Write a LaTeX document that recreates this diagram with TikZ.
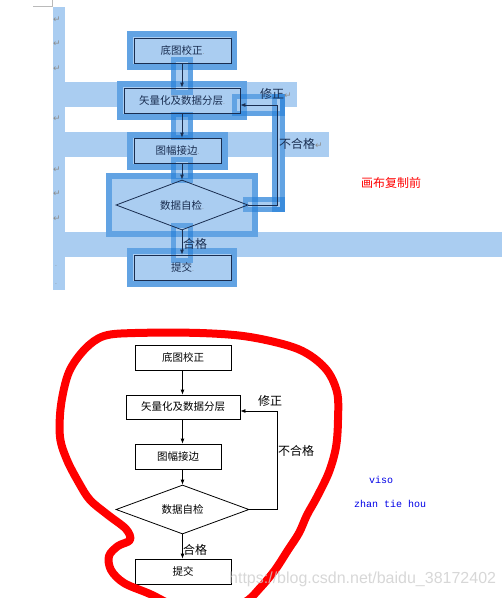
\documentclass[tikz,border=0pt]{standalone}
\usepackage{fontspec}
\setmainfont{Noto Sans CJK SC}
\newfontfamily\markfont{DejaVu Sans}
\newfontfamily\monofont{Liberation Mono}
\newfontfamily\wmfont{Liberation Sans}
\usetikzlibrary{shapes.geometric,arrows.meta}
\definecolor{sellight}{RGB}{170,205,241}
\definecolor{selblue}{RGB}{12,112,212}
\definecolor{boxline}{RGB}{25,45,80}
\definecolor{markgray}{RGB}{140,140,140}
\definecolor{wmgray}{RGB}{205,205,205}
\definecolor{vblue}{RGB}{0,0,230}
\newcommand\parmark{{\markfont\color{markgray}\fontsize{6}{6}\selectfont.}}
\newcommand\retmark{{\markfont\color{markgray}\fontsize{9}{9}\selectfont ↵}}
\tikzset{
    flowbox/.style={draw, line width=0.8pt, inner sep=0pt, minimum height=25pt, font=\fontsize{10.5}{12}\selectfont},
    flowdia/.style={draw, diamond, aspect=2.6, line width=0.8pt, inner sep=0pt, minimum width=132pt, minimum height=50pt, font=\fontsize{10.5}{12}\selectfont},
    flowarrow/.style={-{Latex[length=5pt,width=4pt]}, line width=0.8pt},
    lbl/.style={anchor=west, inner sep=0pt, font=\fontsize{12}{14}\selectfont},
    pmark/.style={inner sep=0pt},
    selring/.style={draw=selblue, draw opacity=.45, line width=5pt},
    boxring/.style={selring, line width=6pt},
    redloop/.style={red, line width=8pt, line join=round, line cap=round}
}
\begin{document}
\begin{tikzpicture}[x=1pt,y=-1pt]
    \useasboundingbox (0,0) rectangle (502,598);
    \clip (0,0) rectangle (502,598);
    %Page corner
        \draw[markgray!60, line width=0.8pt] (33,6) -- (52,6) -- (52,0);
    %Selection fills
        \fill[sellight] (53,7) rectangle (65,290);
        \fill[sellight] (65,82) rectangle (297,107);
        \fill[sellight] (65,132) rectangle (329,157);
        \fill[sellight] (65,232) rectangle (502,257);
        \fill[sellight] (127,31) rectangle (237,70);
        \fill[sellight] (117,81) rectangle (247,120);
        \fill[sellight] (127,132) rectangle (228,170);
        \fill[sellight] (106,173) rectangle (258,237);
        \fill[sellight] (127,248) rectangle (237,287);
        \fill[sellight] (171,57) rectangle (193,95);
        \fill[sellight] (171,112) rectangle (193,140);
        \fill[sellight] (171,157) rectangle (193,183);
        \fill[sellight] (171,223) rectangle (193,263);
        \fill[sellight] (232,94) rectangle (285,116);
        \fill[sellight] (272,94) rectangle (285,212);
        \fill[sellight] (243,197) rectangle (285,212);
    %Selection frames
        \draw[boxring] (130,34) rectangle (234,67);
        \draw[boxring] (120,84) rectangle (244,117);
        \draw[boxring] (130,135) rectangle (225,167);
        \draw[boxring] (109,176) rectangle (255,234);
        \draw[boxring] (130,251) rectangle (234,284);
        \draw[selring] (173.5,59.5) rectangle (190.5,92.5);
        \draw[selring] (173.5,114.5) rectangle (190.5,137.5);
        \draw[selring] (173.5,159.5) rectangle (190.5,180.5);
        \draw[selring] (173.5,225.5) rectangle (190.5,260.5);
        \draw[selring] (234.5,96.5) rectangle (282.5,113.5);
        \draw[selring] (274.5,96.5) rectangle (282.5,209.5);
        \draw[selring] (245.5,199.5) rectangle (282.5,209.5);
    %Paragraph marks
        \node[pmark] (m1) at (57,20) {\retmark};
        \node[pmark] (m2) at (57,44) {\retmark};
        \node[pmark] (m3) at (57,69) {\retmark};
        \node[pmark] (m4) at (57,119) {\retmark};
        \node[pmark] (m5) at (57,170) {\retmark};
        \node[pmark] (m6) at (57,194) {\retmark};
        \node[pmark] (m7) at (57,219) {\retmark};
        \node[pmark] (m8) at (56,266) {\parmark};
        \node[pmark] (m9) at (56,284) {\parmark};
    %Flow before copy
        \node[flowbox, draw=boxline, text=boxline, minimum width=97pt] (ajz) at (182.5,50.5) {底图校正\parmark};
        \node[flowbox, draw=boxline, text=boxline, minimum width=116pt] (aslh) at (182,100.5) {矢量化及数据分层\parmark};
        \node[flowbox, draw=boxline, text=boxline, minimum width=87pt] (ajb) at (177.5,150.5) {图幅接边\parmark};
        \node[flowdia, draw=boxline, text=boxline] (azj) at (182,205) {数据自检\parmark};
        \node[flowbox, draw=boxline, text=boxline, minimum width=97pt] (atj) at (182.5,267.5) {提交\parmark};
        \draw[flowarrow, boxline] (ajz.south -| azj.north) -- (aslh.north -| azj.north);
        \draw[flowarrow, boxline] (aslh.south -| azj.north) -- (ajb.north -| azj.north);
        \draw[flowarrow, boxline] (ajb.south -| azj.north) -- (azj.north);
        \draw[flowarrow, boxline] (azj.south) -- (atj.north -| azj.south);
        \draw[flowarrow, boxline] (azj.east) -- ++(29,0) |- ([yshift=-4.5pt]aslh.east);
        \node[lbl, text=boxline] (axz) at (260,93.5) {修正\retmark};
        \node[lbl, text=boxline] (abhg) at (279,144) {不合格\retmark};
        \node[lbl, text=boxline] (ahg) at (183,244) {合格};
        \node[lbl, text=red] (before) at (361,183) {画布复制前};
    %Flow after paste
        \node[flowbox, minimum width=96pt] (bjz) at (183,357.5) {底图校正};
        \node[flowbox, minimum width=114pt, minimum height=24pt] (bslh) at (183,407) {矢量化及数据分层};
        \node[flowbox, minimum width=86pt] (bjb) at (178,456.5) {图幅接边};
        \node[flowdia, minimum width=133pt, minimum height=49pt] (bzj) at (182.5,509.5) {数据自检};
        \node[flowbox, minimum width=96pt] (btj) at (183,571.5) {提交};
        \draw[flowarrow] (bjz.south -| bzj.north) -- (bslh.north -| bzj.north);
        \draw[flowarrow] (bslh.south -| bzj.north) -- (bjb.north -| bzj.north);
        \draw[flowarrow] (bjb.south -| bzj.north) -- (bzj.north);
        \draw[flowarrow] (bzj.south) -- (btj.north -| bzj.south);
        \draw[flowarrow] (bzj.east) -- ++(28,0) |- ([yshift=-4pt]bslh.east);
        \node[lbl] (bxz) at (258,400.5) {修正};
        \node[lbl] (bbhg) at (278,450.5) {不合格};
        \node[lbl] (bhg) at (183,549.5) {合格};
        \node[anchor=base west, inner sep=0pt, text=vblue, font=\monofont\fontsize{10}{12}\selectfont] (viso) at (369,483) {viso};
        \node[anchor=base west, inner sep=0pt, text=vblue, font=\monofont\fontsize{10}{12}\selectfont] (zth) at (354,507.5) {zhan tie hou};
    %Red loop
        \draw[redloop] plot[smooth cycle, tension=0.55] coordinates {
            (104,336) (135,333) (200,333) (250,337) (298,349) (325,368) (337,392)
            (338,420) (336,447) (329,472) (317,497) (307,515) (299,533) (288,550)
            (275,570) (260,588) (245,602) (215,612) (180,608) (150,594) (124,583)
            (111,570) (109,556) (118,546) (130,540) (126,529) (108,515) (90,500)
            (79,483) (67,460) (60,437) (61,405) (69,372) (85,349)};
    %Watermark
        \node[anchor=base west, inner sep=0pt, text=wmgray, text opacity=.8, font=\wmfont\fontsize{16}{16}\selectfont] (wm) at (229,583) {https://blog.csdn.net/baidu\_38172402};
\end{tikzpicture}
\end{document}
